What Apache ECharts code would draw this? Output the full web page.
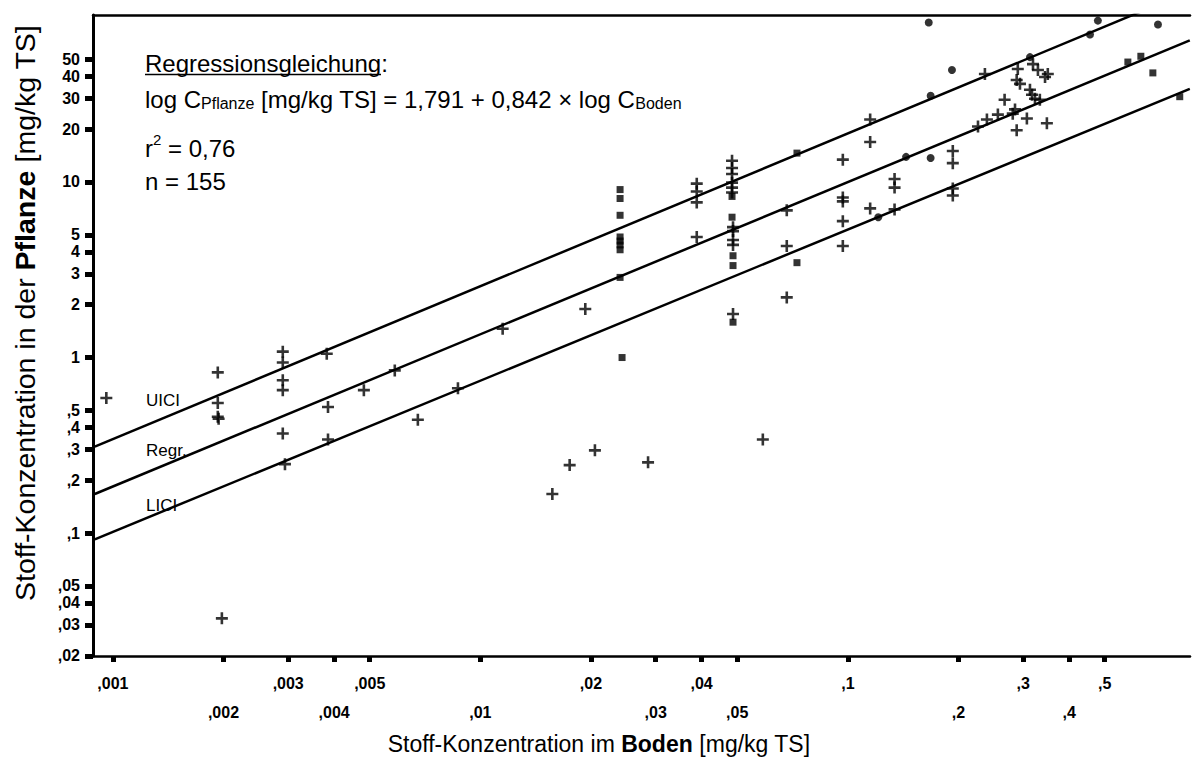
<!DOCTYPE html>
<html>
<head>
<meta charset="utf-8">
<title>Stoff-Konzentration Boden / Pflanze</title>
<script src="https://cdn.jsdelivr.net/npm/echarts@6.0.0/dist/echarts.min.js"></script>
<style>
  html, body { margin: 0; padding: 0; background: #fff; }
  #main { width: 1192px; height: 760px; }
</style>
</head>
<body>
<div id="main"></div>
<script>
// Messwerte, abgelesen aus der Vorlage, alles in mg/kg TS
// "+" Messwerte
const crossBoden = [
  0.00096, 0.00193, 0.00193, 0.00193, 0.00194, 0.0029, 0.0029, 0.0029, 0.0029, 0.0029,
  0.00294, 0.00382, 0.00385, 0.00385, 0.00482, 0.00585, 0.00198, 0.00676, 0.00869, 0.0115,
  0.0193, 0.0388, 0.0388, 0.0388, 0.0388, 0.0484, 0.0484, 0.0484, 0.0484, 0.0484,
  0.0484, 0.0487, 0.0487, 0.0487, 0.0487, 0.0487, 0.0682, 0.0682, 0.0682, 0.0587,
  0.0205, 0.0175, 0.0286, 0.0157, 0.115, 0.115, 0.0969, 0.193, 0.193, 0.134,
  0.134, 0.0969, 0.0969, 0.193, 0.193, 0.115, 0.134, 0.0969, 0.0969, 0.236,
  0.290, 0.288, 0.294, 0.319, 0.329, 0.350, 0.344, 0.313, 0.317, 0.323,
  0.267, 0.285, 0.281, 0.256, 0.239, 0.226, 0.307, 0.288, 0.348, 0.333
];
const crossPflanze = [
  0.588, 0.823, 0.551, 0.460, 0.448, 1.08, 0.937, 0.742, 0.652, 0.369,
  0.247, 1.05, 0.523, 0.341, 0.652, 0.845, 0.0327, 0.442, 0.669, 1.46,
  1.89, 9.78, 8.82, 7.65, 4.86, 13.2, 12.0, 11.1, 9.91, 9.29,
  8.71, 5.53, 5.25, 4.67, 4.38, 1.77, 6.89, 4.32, 2.20, 0.341,
  0.296, 0.244, 0.253, 0.167, 22.7, 16.9, 13.4, 15.0, 12.8, 10.4,
  9.29, 8.16, 7.75, 9.17, 8.37, 7.07, 6.98, 5.98, 4.32, 41.2,
  44.0, 38.1, 36.2, 46.9, 43.4, 41.2, 39.6, 33.5, 31.4, 29.8,
  29.4, 25.9, 24.5, 24.2, 22.7, 20.7, 23.0, 19.7, 21.6, 29.4
];
// Quadrate
const squareBoden = [
  0.024, 0.024, 0.024, 0.024, 0.024, 0.024, 0.024, 0.024, 0.0243, 0.0484,
  0.0484, 0.0487, 0.0487, 0.0487, 0.0727, 0.0727, 0.578, 0.627, 0.676, 0.80
];
const squarePflanze = [
  9.05, 8.05, 6.46, 4.86, 4.61, 4.38, 4.11, 2.86, 1.00, 8.27,
  6.30, 3.80, 3.34, 1.59, 14.6, 3.47, 48.2, 52.0, 41.8, 30.6
];
// Punkte
const dotBoden = [0.166, 0.479, 0.698, 0.456, 0.313, 0.192, 0.168, 0.144, 0.168, 0.121];
const dotPflanze = [80.9, 83.0, 78.8, 69.2, 51.4, 43.4, 31.0, 13.9, 13.7, 6.30];

// Regressionsgerade und Konfidenzgrenzen (Endpunkte)
const lineBoden = [0.000893, 0.852];
const uiclPflanze = [0.311, 122];
const regrPflanze = [0.167, 64.0];
const liclPflanze = [0.0922, 33.9];

// Achsenbeschriftung
const xTicks = [0.001, 0.002, 0.003, 0.004, 0.005, 0.01, 0.02, 0.03, 0.04, 0.05, 0.1, 0.2, 0.3, 0.4, 0.5];
const xTickLabels = [',001', ',002', ',003', ',004', ',005', ',01', ',02', ',03', ',04', ',05', ',1', ',2', ',3', ',4', ',5'];
const yTicks = [0.02, 0.03, 0.04, 0.05, 0.1, 0.2, 0.3, 0.4, 0.5, 1, 2, 3, 4, 5, 10, 20, 30, 40, 50];
const yTickLabels = [',02', ',03', ',04', ',05', ',1', ',2', ',3', ',4', ',5', '1', '2', '3', '4', '5', '10', '20', '30', '40', '50'];

const lg = v => Math.log10(v);
const X_MIN = -3.054, X_MAX = -0.069;
const Y_MIN = -1.7, Y_MAX = 1.951;
const FONT = "'Liberation Sans', Arial, Helvetica, sans-serif";

function pairs(xs, ys) {
    return xs.map((x, i) => [lg(x), lg(ys[i])]);
}

function tickFormatter(values, labels) {
    return function (v) {
        for (let i = 0; i < values.length; i++) {
            if (Math.abs(lg(values[i]) - v) < 1e-4) return labels[i];
        }
        return '';
    };
}

const xUpper = xTicks.filter((v, i) => i % 2 === 0);
const xLower = xTicks.filter((v, i) => i % 2 === 1);

const tickText = { color: '#000', fontSize: 16, fontWeight: 'bold', fontFamily: FONT };
const blackLine = { color: '#000', width: 2.5 };

const xBase = {
    type: 'value',
    min: X_MIN,
    max: X_MAX,
    splitLine: { show: false },
    axisLine: { show: false, onZero: false },
    axisTick: { show: false },
    axisLabel: { show: false }
};

const crossPath = 'path://M4.7,0H7.3V4.7H12V7.3H7.3V12H4.7V7.3H0V4.7H4.7Z';

let chart = echarts.init(document.getElementById('main'), null, { renderer: 'svg' });

let option = {
    animation: false,
    backgroundColor: '#fff',
    grid: { left: 93, right: 2, top: 15, bottom: 104, containLabel: false, outerBoundsMode: 'none' },
    xAxis: [
        Object.assign({}, xBase, {
            position: 'bottom',
            axisLine: { show: true, onZero: false, lineStyle: blackLine },
            axisTick: { show: true, customValues: xTicks.map(lg), length: 6, lineStyle: { color: '#000', width: 5 } },
            axisLabel: Object.assign({ show: true, customValues: xUpper.map(lg), margin: 19,
                formatter: tickFormatter(xTicks, xTickLabels) }, tickText)
        }),
        Object.assign({}, xBase, {
            position: 'bottom',
            axisLabel: Object.assign({ show: true, customValues: xLower.map(lg), margin: 48,
                formatter: tickFormatter(xTicks, xTickLabels) }, tickText)
        }),
        Object.assign({}, xBase, {
            position: 'top',
            axisLine: { show: true, onZero: false, lineStyle: blackLine }
        })
    ],
    yAxis: {
        type: 'value',
        min: Y_MIN,
        max: Y_MAX,
        splitLine: { show: false },
        axisLine: { show: true, onZero: false, lineStyle: { color: '#000', width: 3 } },
        axisTick: { show: true, customValues: yTicks.map(lg), length: 8, lineStyle: { color: '#000', width: 5 } },
        axisLabel: Object.assign({ customValues: yTicks.map(lg), margin: 13,
            formatter: tickFormatter(yTicks, yTickLabels) }, tickText)
    },
    graphic: [
        {
            type: 'text', x: 599, y: 744,
            style: {
                text: '{n|Stoff-Konzentration im }{b|Boden}{n| [mg/kg TS]}',
                align: 'center', verticalAlign: 'middle', fill: '#000',
                rich: {
                    n: { fontSize: 23, fontFamily: FONT },
                    b: { fontSize: 23, fontFamily: FONT, fontWeight: 'bold' }
                }
            }
        },
        {
            type: 'text', x: 25, y: 313, rotation: Math.PI / 2,
            style: {
                text: '{n|Stoff-Konzentration in der }{b|Pflanze}{n| [mg/kg TS]}',
                align: 'center', verticalAlign: 'middle', fill: '#000',
                rich: {
                    n: { fontSize: 28.5, fontFamily: FONT },
                    b: { fontSize: 28.5, fontFamily: FONT, fontWeight: 'bold' }
                }
            }
        },
        {
            type: 'text', x: 145, y: 63,
            style: { text: 'Regressionsgleichung:', fontSize: 24, fontFamily: FONT, fill: '#000', verticalAlign: 'middle' }
        },
        {
            type: 'line', shape: { x1: 145, y1: 74.5, x2: 381, y2: 74.5 },
            style: { stroke: '#000', lineWidth: 1.5 }
        },
        {
            type: 'text', x: 145, y: 99,
            style: {
                text: '{m|log C}{s|Pflanze}{m| [mg/kg TS] = 1,791 + 0,842 \u00d7 log C}{s|Boden}',
                verticalAlign: 'middle', fill: '#000',
                rich: {
                    m: { fontSize: 24, fontFamily: FONT, lineHeight: 24, verticalAlign: 'bottom' },
                    s: { fontSize: 16, fontFamily: FONT, lineHeight: 16, verticalAlign: 'bottom' }
                }
            }
        },
        {
            type: 'text', x: 145, y: 146,
            style: {
                text: '{m|r}{p|2}{m| = 0,76}',
                verticalAlign: 'middle', fill: '#000',
                rich: {
                    m: { fontSize: 24, fontFamily: FONT, lineHeight: 28, verticalAlign: 'bottom' },
                    p: { fontSize: 15, fontFamily: FONT, lineHeight: 15, verticalAlign: 'top' }
                }
            }
        },
        {
            type: 'text', x: 145, y: 181,
            style: { text: 'n = 155', fontSize: 24, fontFamily: FONT, fill: '#000', verticalAlign: 'middle' }
        },
        {
            type: 'text', x: 146, y: 400,
            style: { text: 'UICI', fontSize: 17, fontFamily: FONT, fill: '#000', verticalAlign: 'middle' }
        },
        {
            type: 'text', x: 146, y: 450,
            style: { text: 'Regr.', fontSize: 17, fontFamily: FONT, fill: '#000', verticalAlign: 'middle' }
        },
        {
            type: 'text', x: 146, y: 505,
            style: { text: 'LICI', fontSize: 17, fontFamily: FONT, fill: '#000', verticalAlign: 'middle' }
        }
    ],
    series: [
        {
            name: 'UICI', type: 'line', data: pairs(lineBoden, uiclPflanze),
            symbol: 'none', silent: true, lineStyle: blackLine
        },
        {
            name: 'Regr.', type: 'line', data: pairs(lineBoden, regrPflanze),
            symbol: 'none', silent: true, lineStyle: blackLine
        },
        {
            name: 'LICI', type: 'line', data: pairs(lineBoden, liclPflanze),
            symbol: 'none', silent: true, lineStyle: blackLine
        },
        {
            name: 'Messwerte +', type: 'scatter', data: pairs(crossBoden, crossPflanze),
            symbol: crossPath, symbolSize: 12, itemStyle: { color: '#000' }
        },
        {
            name: 'Messwerte Quadrat', type: 'scatter', data: pairs(squareBoden, squarePflanze),
            symbol: 'rect', symbolSize: 7, itemStyle: { color: '#000' }
        },
        {
            name: 'Messwerte Punkt', type: 'scatter', data: pairs(dotBoden, dotPflanze),
            symbol: 'circle', symbolSize: 8, itemStyle: { color: '#000' }
        }
    ]
};

chart.setOption(option);
</script>
</body>
</html>
